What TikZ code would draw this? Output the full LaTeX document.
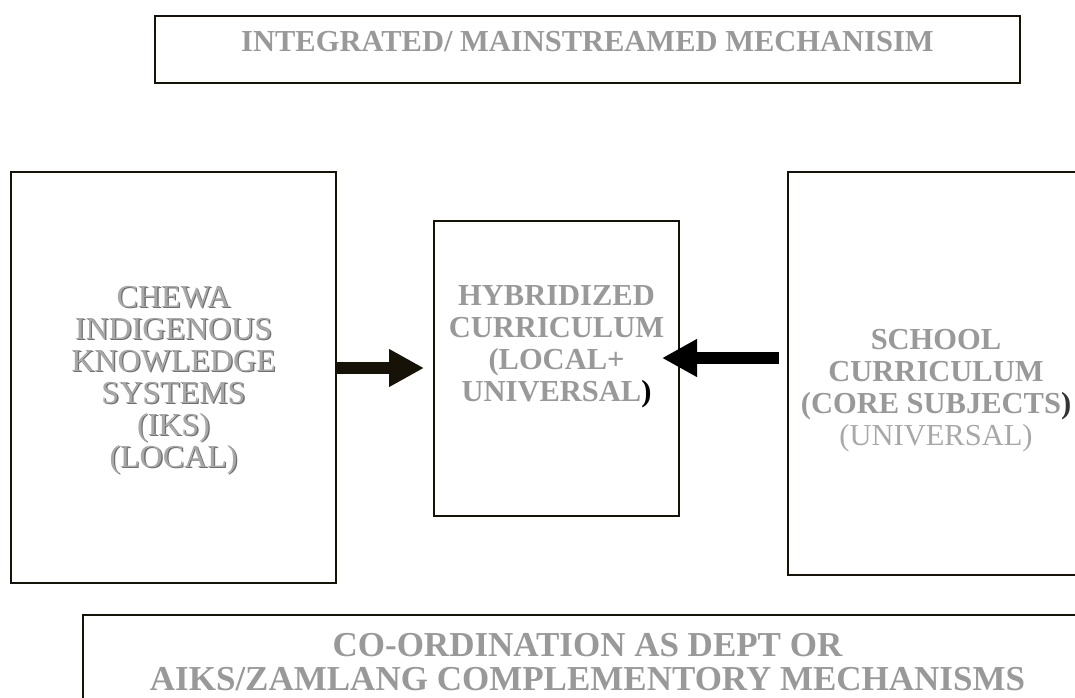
\documentclass[tikz,border=0pt]{standalone}
\usepackage{fontspec}
\setmainfont{Liberation Serif}
\usetikzlibrary{arrows.meta,calc}
\definecolor{labelgray}{RGB}{153,153,153}
\definecolor{softgray}{RGB}{168,168,168}
\definecolor{shadowgray}{RGB}{112,112,112}
\definecolor{edge}{RGB}{22,18,8}

\begin{document}
\begin{tikzpicture}[x=1pt,y=-1pt,
  panel/.style={draw=edge, line width=1.6pt, inner sep=0pt, outer sep=0pt, anchor=north west},
  boldlabel/.style={text=labelgray, font=\bfseries\fontsize{30.5}{32}\selectfont, align=center, inner sep=0pt},
  plainlabel/.style={font=\fontsize{32}{32}\selectfont, align=center, inner sep=0pt},
  fatarrow/.style={line width=12pt, -{Triangle[length=35pt,width=35.5pt]}}
]
\useasboundingbox (0,0) rectangle (1075,697);
\clip (0,0) rectangle (1075,697);
\fill[white] (0,0) rectangle (1075,697);

% frames
\node[panel, minimum width=865pt, minimum height=67pt] (top) at (155,16) {};
\node[panel, minimum width=325pt, minimum height=411pt] (iks) at (11,172) {};
\node[panel, minimum width=245pt, minimum height=295pt] (hyb) at (434,221) {};
\node[panel, minimum width=296pt, minimum height=403pt] (school) at (788,172) {};
\node[panel, minimum width=1009pt, minimum height=120pt] (coord) at (83,615) {};

% labels
\node[boldlabel, anchor=base] (topText) at (587.5,51) {INTEGRATED/ MAINSTREAMED MECHANISIM};

\node[plainlabel, text=shadowgray] (iksShadow) at (174.8,381.3)
  {CHEWA\\INDIGENOUS\\KNOWLEDGE\\SYSTEMS\\(IKS)\\(LOCAL)};
\node[plainlabel, text=softgray] (iksText) at (173.5,380)
  {CHEWA\\INDIGENOUS\\KNOWLEDGE\\SYSTEMS\\(IKS)\\(LOCAL)};

\node[boldlabel] (hybText) at (556.5,347)
  {HYBRIDIZED\\CURRICULUM\\(LOCAL+\\UNIVERSAL\textcolor{black}{)}};

\node[boldlabel] (schoolText) at (936,391)
  {SCHOOL\\CURRICULUM\\(CORE SUBJECTS\textcolor{black!80}{)}\\{\mdseries\color{softgray}(UNIVERSAL)}};

\node[boldlabel, font=\bfseries\fontsize{35}{34}\selectfont] (coordText) at (587.5,662)
  {CO-ORDINATION AS DEPT OR\\AIKS/ZAMLANG COMPLEMENTORY MECHANISMS};

% connectors
\coordinate (leftRow) at (0,368);
\coordinate (rightRow) at (0,358);
\draw[fatarrow, draw=edge, fill=edge] (iks.east |- leftRow) -- ($(hyb.west |- leftRow)+(-10,0)$);
\draw[fatarrow, draw=black, fill=black] ($(school.west |- rightRow)+(-9,0)$) -- ($(hyb.east |- rightRow)+(-17,0)$);
\end{tikzpicture}
\end{document}
